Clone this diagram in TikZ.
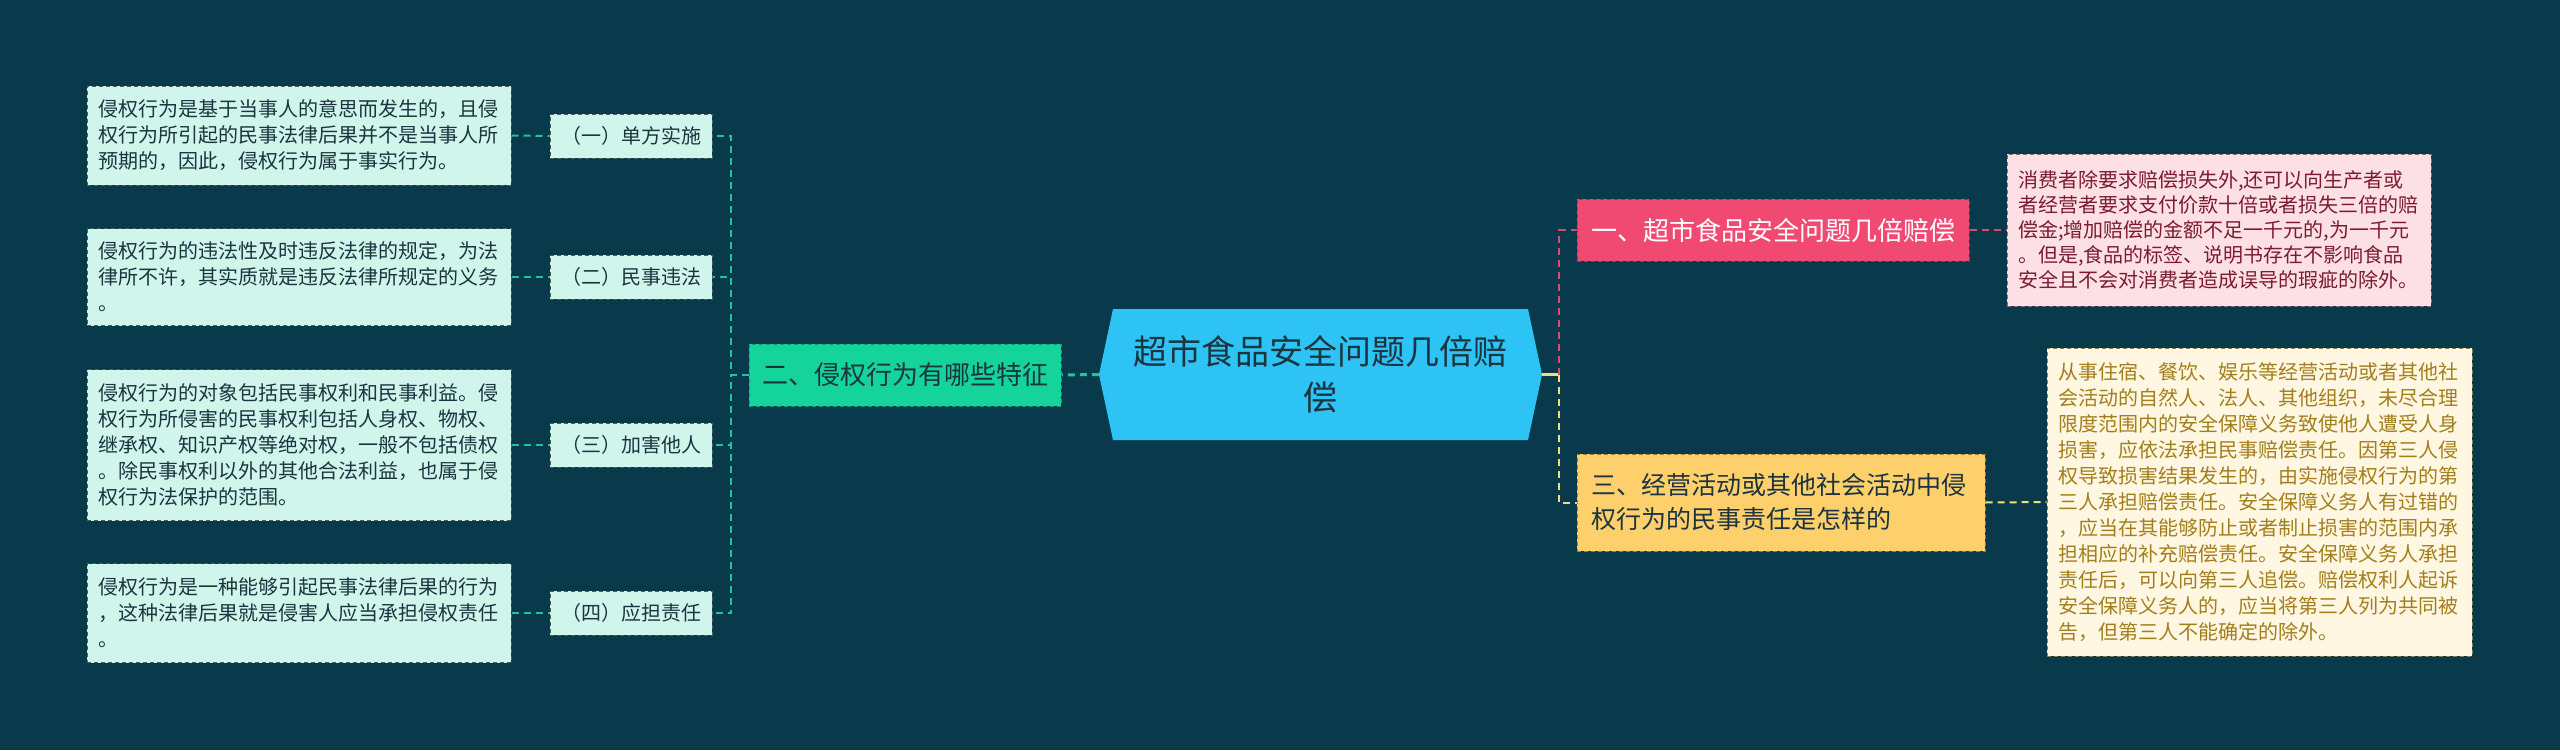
\documentclass[tikz,border=0pt]{standalone}
\usepackage{fontspec}
\setmainfont{Noto Sans CJK SC}
\definecolor{bg}{HTML}{083A4C}
\definecolor{cyanc}{HTML}{2DC4F5}
\definecolor{darkt}{HTML}{1B3440}
\definecolor{greenf}{HTML}{14D49C}
\definecolor{greenb}{HTML}{0E9E74}
\definecolor{greenl}{HTML}{22C2A0}
\definecolor{mint}{HTML}{D0F6EC}
\definecolor{mintb}{HTML}{4A5F5C}
\definecolor{redf}{HTML}{F04A73}
\definecolor{redb}{HTML}{B0304F}
\definecolor{redl}{HTML}{D94C72}
\definecolor{pinkf}{HTML}{FDE0E6}
\definecolor{pinkt}{HTML}{7B1B2F}
\definecolor{pinkb}{HTML}{8A6A70}
\definecolor{yelf}{HTML}{FDD06B}
\definecolor{yelb}{HTML}{9C8030}
\definecolor{yell}{HTML}{F5DB7A}
\definecolor{creamf}{HTML}{FFF7E1}
\definecolor{creamt}{HTML}{A27E1C}
\definecolor{creamb}{HTML}{8C7A50}
\tikzset{
  box/.style={rectangle, inner sep=0pt, draw, dash pattern=on 4pt off 3pt, line width=1pt},
  leftbox/.style={box, fill=mint, draw=mintb, text=darkt, text width=402pt, align=left,
    minimum width=424pt, font=\fontsize{20}{26}\selectfont},
  labelbox/.style={box, fill=mint, draw=mintb, text=darkt, minimum width=162pt,
    minimum height=44pt, font=\fontsize{20}{26}\selectfont},
  conn/.style={dash pattern=on 7pt off 5pt, line width=2pt},
}
\begin{document}
\begin{tikzpicture}[x=1pt,y=-1pt]
\fill[bg] (0,0) rectangle (2560,750);
\useasboundingbox (0,0) rectangle (2560,750);
% central hexagon
\fill[cyanc] (1113,309) -- (1528,309) -- (1542,374.5) -- (1528,440) -- (1113,440) -- (1099,374.5) -- cycle;
\node[inner sep=0pt, minimum width=443pt, minimum height=131pt, text=darkt, align=center,
  font=\fontsize{34}{46}\selectfont] (C) at (1320.5,374.5) {超市食品安全问题几倍赔\\偿};
% left branch
\node[box, fill=greenf, draw=greenb, text=darkt, minimum width=312pt, minimum height=62pt,
  font=\fontsize{26}{30}\selectfont] (G) at (905,375) {二、侵权行为有哪些特征};
\node[labelbox] (L1) at (631,136) {（一）单方实施};
\node[labelbox] (L2) at (631,277) {（二）民事违法};
\node[labelbox] (L3) at (631,445) {（三）加害他人};
\node[labelbox] (L4) at (631,613) {（四）应担责任};
\node[leftbox, minimum height=99pt] (T1) at (299,135.5) {侵权行为是基于当事人的意思而发生的，且侵\\权行为所引起的民事法律后果并不是当事人所\\预期的，因此，侵权行为属于事实行为。};
\node[leftbox, minimum height=97pt] (T2) at (299,277) {侵权行为的违法性及时违反法律的规定，为法\\律所不许，其实质就是违反法律所规定的义务\\。};
\node[leftbox, minimum height=151pt] (T3) at (299,445) {侵权行为的对象包括民事权利和民事利益。侵\\权行为所侵害的民事权利包括人身权、物权、\\继承权、知识产权等绝对权，一般不包括债权\\。除民事权利以外的其他合法利益，也属于侵\\权行为法保护的范围。};
\node[leftbox, minimum height=99pt] (T4) at (299,613) {侵权行为是一种能够引起民事法律后果的行为\\，这种法律后果就是侵害人应当承担侵权责任\\。};
\coordinate (sl) at (731,375);
\draw[conn, greenl, line width=3pt] (C.west) -- (G.east);
\foreach \i in {1,2,3,4}{
  \draw[conn, greenl] (G.west) -- (sl) |- (L\i.east);
  \draw[conn, greenl] (T\i.east) -- (L\i.west);
}
% right branch
\node[box, fill=redf, draw=redb, text=white, minimum width=392pt, minimum height=62pt,
  font=\fontsize{26}{30}\selectfont] (R) at (1773,230) {一、超市食品安全问题几倍赔偿};
\node[box, fill=pinkf, draw=pinkb, text=pinkt, text width=402pt, align=left,
  minimum width=424pt, minimum height=152pt, font=\fontsize{20}{25}\selectfont] (P) at (2219,230)
  {消费者除要求赔偿损失外,还可以向生产者或\\者经营者要求支付价款十倍或者损失三倍的赔\\偿金;增加赔偿的金额不足一千元的,为一千元\\。但是,食品的标签、说明书存在不影响食品\\安全且不会对消费者造成误导的瑕疵的除外。};
\node[box, fill=yelf, draw=yelb, text=darkt, text width=380pt, align=left,
  minimum width=408pt, minimum height=97pt, font=\fontsize{25}{34}\selectfont] (Y) at (1781,502.5)
  {三、经营活动或其他社会活动中侵\\权行为的民事责任是怎样的};
\node[box, fill=creamf, draw=creamb, text=creamt, text width=403pt, align=left,
  minimum width=425pt, minimum height=308pt, font=\fontsize{20}{26}\selectfont] (K) at (2259.5,502)
  {从事住宿、餐饮、娱乐等经营活动或者其他社\\会活动的自然人、法人、其他组织，未尽合理\\限度范围内的安全保障义务致使他人遭受人身\\损害，应依法承担民事赔偿责任。因第三人侵\\权导致损害结果发生的，由实施侵权行为的第\\三人承担赔偿责任。安全保障义务人有过错的\\，应当在其能够防止或者制止损害的范围内承\\担相应的补充赔偿责任。安全保障义务人承担\\责任后，可以向第三人追偿。赔偿权利人起诉\\安全保障义务人的，应当将第三人列为共同被\\告，但第三人不能确定的除外。};
\coordinate (sr) at (1559,374.5);
\draw[yell, line width=3pt] (C.east) -- (sr);
\draw[conn, redl] (sr) |- (R.west);
\draw[conn, yell] (sr) |- (Y.west);
\draw[conn, redl] (R.east) -- (P.west);
\draw[conn, yell] (Y.east) -- (K.west);
\end{tikzpicture}
\end{document}
